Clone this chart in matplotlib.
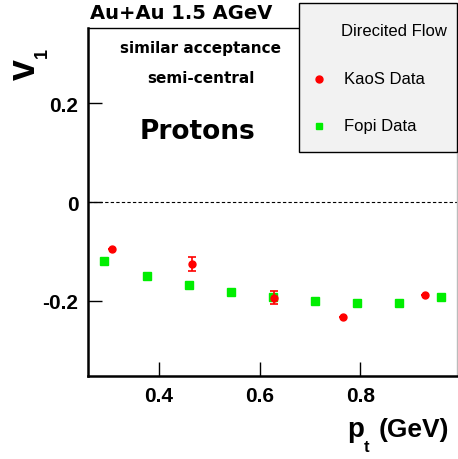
import matplotlib
matplotlib.use("Agg")
import matplotlib.pyplot as plt
from matplotlib.patches import Rectangle
from matplotlib.lines import Line2D

plt.rcParams['font.family'] = ['Liberation Sans', 'DejaVu Sans']

# KaoS proton directed flow
kaos_pt = [0.307, 0.465, 0.628, 0.765, 0.928]
kaos_v1 = [-0.095, -0.125, -0.194, -0.232, -0.189]
kaos_err = [0.0, 0.014, 0.013, 0.0, 0.0]

# FOPI proton directed flow
fopi_pt = [0.291, 0.376, 0.459, 0.543, 0.626, 0.710, 0.794, 0.877, 0.961]
fopi_v1 = [-0.119, -0.149, -0.167, -0.182, -0.192, -0.200, -0.204, -0.204, -0.193]

xticks = [0.4, 0.6, 0.8]
yticks = [-0.2, 0.0, 0.2]

W, H = 458, 460


def fx(px):
    return px / W


def fy(py):
    return 1 - py / H


fig = plt.figure(figsize=(W / 100, H / 100), dpi=100)
ax = fig.add_axes([fx(88), fy(377), 369 / W, 348 / H])

ax.axhline(0, color='black', lw=0.8, ls=(0, (3, 2)), zorder=1)
ax.errorbar(kaos_pt, kaos_v1, yerr=kaos_err, fmt='o', color='#ff0000',
            ms=5, capsize=3, elinewidth=1.2, capthick=1.2, zorder=3)
ax.plot(fopi_pt, fopi_v1, 's', color='#00ee00', ms=5.5, mec='#00ee00',
        zorder=2)

ax.set_xlim(0.259, 0.992)
ax.set_ylim(-0.352, 0.352)
ax.set_xticks(xticks)
ax.set_xticklabels([f"{t:.1f}" for t in xticks])
ax.set_yticks(yticks)
ax.set_yticklabels(["-0.2", "0", "0.2"])
ax.tick_params(direction='in', length=10, width=1, labelsize=15, pad=7,
               right=False, top=False)
for lab in ax.get_xticklabels() + ax.get_yticklabels():
    lab.set_fontweight('bold')

ax.spines['left'].set_linewidth(1.8)
ax.spines['bottom'].set_linewidth(1.8)
ax.spines['top'].set_linewidth(1.0)
ax.spines['right'].set_linewidth(1.0)
ax.spines['right'].set_color('#bbbbbb')

wide = ['DejaVu Sans']

# Annotations
fig.text(fx(90), fy(19), "Au+Au 1.5 AGeV", fontsize=14, family=wide,
         fontweight='bold', ha='left', va='baseline')
fig.text(fx(201), fy(53), "similar acceptance", fontsize=11, family=wide,
         fontweight='bold', ha='center', va='baseline')
fig.text(fx(201), fy(83), "semi-central", fontsize=11, family=wide,
         fontweight='bold', ha='center', va='baseline')
fig.text(fx(198), fy(139), "Protons", fontsize=19, family=wide,
         fontweight='bold', ha='center', va='baseline')

# y-axis title: v with subscript 1
fig.text(fx(35), fy(80), "v", fontsize=27, fontweight='bold', rotation=90,
         rotation_mode='anchor', ha='left', va='baseline')
fig.text(fx(47), fy(58), "1", fontsize=13, fontweight='bold', rotation=90,
         rotation_mode='anchor', ha='left', va='baseline')

# x-axis title: p with subscript t
fig.text(fx(347), fy(437), "p", fontsize=20, fontweight='bold',
         ha='left', va='baseline')
fig.text(fx(364), fy(452), "t", fontsize=12, fontweight='bold',
         ha='left', va='baseline')
fig.text(fx(449), fy(437), "(GeV)", fontsize=19, fontweight='bold',
         ha='right', va='baseline')

# Legend box
fig.patches.append(Rectangle((fx(299), fy(153)), 158 / W, 149 / H,
                             transform=fig.transFigure, facecolor='#f2f2f2',
                             edgecolor='black', lw=1.0, zorder=5))
fig.text(fx(394), fy(32), "Direcited Flow", fontsize=12,
         ha='center', va='center', zorder=6)
fig.lines.append(Line2D([fx(319)], [fy(80)], transform=fig.transFigure,
                        marker='o', ms=5, color='#ff0000', ls='none',
                        zorder=6))
fig.text(fx(344), fy(80), "KaoS Data", fontsize=12,
         ha='left', va='center', zorder=6)
fig.lines.append(Line2D([fx(319)], [fy(127)], transform=fig.transFigure,
                        marker='s', ms=5, color='#00ee00', ls='none',
                        zorder=6))
fig.text(fx(344), fy(127), "Fopi Data", fontsize=12,
         ha='left', va='center', zorder=6)

fig.savefig("out.png", dpi=100)
